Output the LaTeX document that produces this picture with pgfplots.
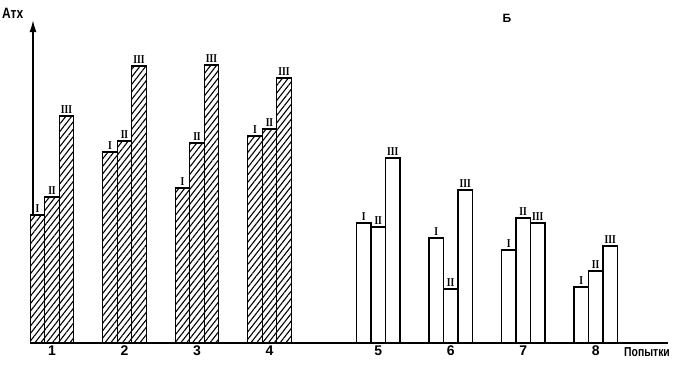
\documentclass[border=0pt]{standalone}
\usepackage{pgfplots}
\pgfplotsset{compat=1.18}
\usepackage{fontspec}
\setmainfont{Liberation Sans}
\newfontfamily\narrowfont[FakeStretch=0.8]{Liberation Sans}
\newfontfamily\romfont[FakeStretch=0.8]{Liberation Serif}
\usetikzlibrary{patterns.meta,arrows.meta}
\pgfplotstableread{
x y
0.8 128
1.8 191
2.8 155
3.8 207
}\hatchI
\pgfplotstableread{
x y
1.0 146
2.0 202
3.0 200
4.0 214
}\hatchII
\pgfplotstableread{
x y
1.2 227
2.2 277
3.2 278
4.2 265
}\hatchIII
\pgfplotstableread{
x y
5.3 120
6.3 105
7.3 93
8.3 56
}\plainI
\pgfplotstableread{
x y
5.5 116
6.5 54
7.5 125
8.5 72
}\plainII
\pgfplotstableread{
x y
5.7 185
6.7 153
7.7 120
8.7 97
}\plainIII
\begin{document}
\begin{tikzpicture}[x=1pt,y=1pt]
\path[use as bounding box] (0,0) rectangle (678,365);
\begin{axis}[
  at={(33pt,22pt)}, anchor=south west, scale only axis,
  width=635pt, height=323pt,
  xmin=0.738, xmax=9.497, ymin=0, ymax=323,
  axis x line=bottom, axis y line=left,
  x axis line style={-, line width=1.6pt},
  y axis line style={-{Latex[length=12pt,width=7pt]}, line width=1.6pt},
  ytick=\empty,
  xtick={1,2,3,4,5.5,6.5,7.5,8.5},
  xticklabels={1,2,3,4,5,6,7,8},
  major tick length=0pt,
  xticklabel style={font=\bfseries\fontsize{14}{14}\selectfont, yshift=1pt},
  ybar, bar width=0.2, bar shift=0pt,
  every node near coord/.append style={font=\romfont\bfseries\fontsize{12}{12}\selectfont, inner sep=1.5pt, black},
  clip=false,
]
\addplot[draw=black, line width=1.3pt, fill=white, postaction={pattern={Lines[angle=52,distance=4.6pt,line width=1.1pt]}}, nodes near coords={I}] table {\hatchI};
\addplot[draw=black, line width=1.3pt, fill=white, postaction={pattern={Lines[angle=52,distance=4.6pt,line width=1.1pt]}}, nodes near coords={II}] table {\hatchII};
\addplot[draw=black, line width=1.3pt, fill=white, postaction={pattern={Lines[angle=52,distance=4.6pt,line width=1.1pt]}}, nodes near coords={III}] table {\hatchIII};
\addplot[draw=black, line width=1.3pt, fill=white, nodes near coords={I}] table {\plainI};
\addplot[draw=black, line width=1.3pt, fill=white, nodes near coords={II}] table {\plainII};
\addplot[draw=black, line width=1.3pt, fill=white, nodes near coords={III}] table {\plainIII};
\end{axis}
\node[anchor=west, font=\narrowfont\bfseries\fontsize{13}{13}\selectfont, inner sep=0pt] at (624,13) {Попытки};
\node[anchor=west, font=\narrowfont\bfseries\fontsize{15}{15}\selectfont, inner sep=0pt] at (2,352) {Атх};
\node[anchor=center, font=\bfseries\fontsize{12}{12}\selectfont, inner sep=0pt] at (507,347) {Б};
\end{tikzpicture}
\end{document}
